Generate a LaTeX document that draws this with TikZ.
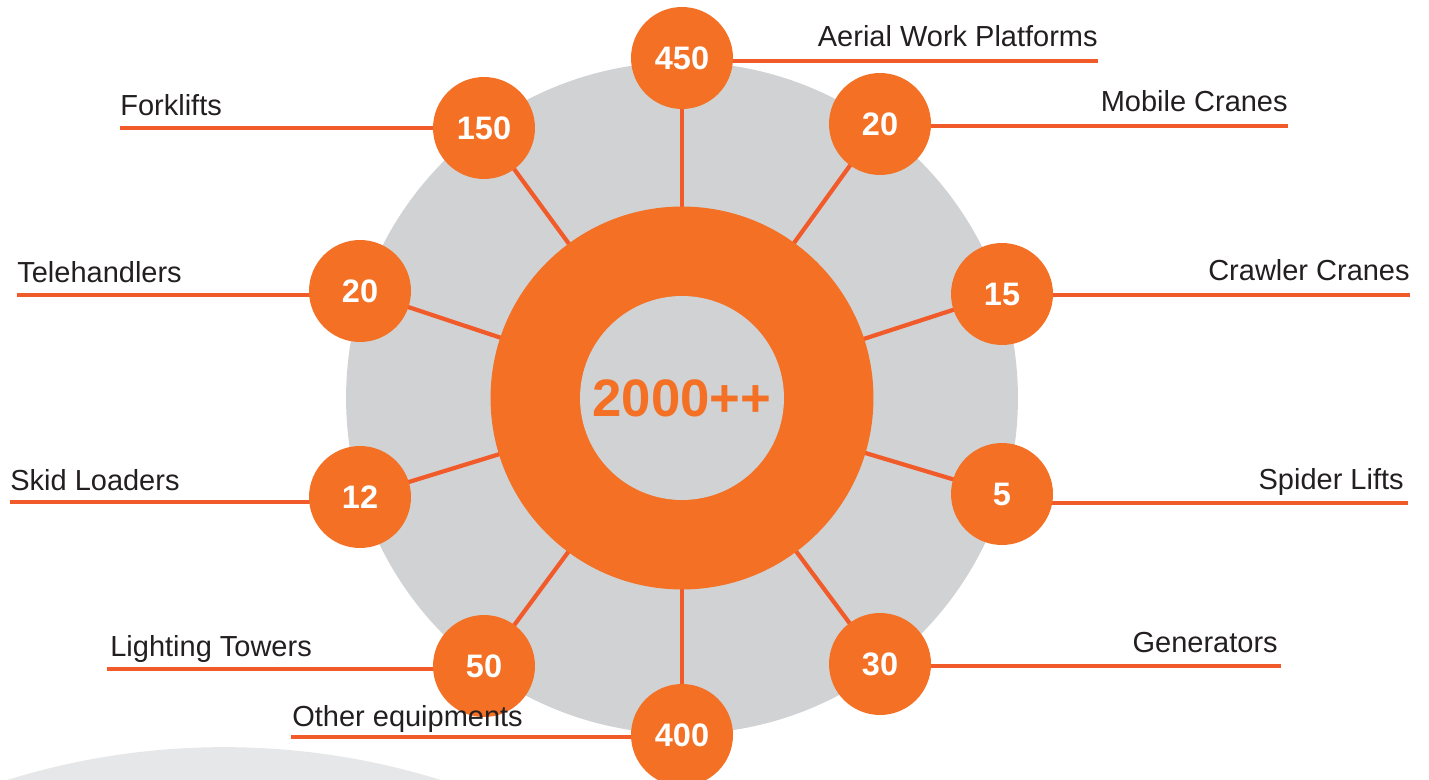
\documentclass[tikz,border=0pt]{standalone}
\usepackage{fontspec}
\setmainfont{Liberation Sans}
\usepackage{tikz}
\usetikzlibrary{backgrounds}
\definecolor{ringorange}{HTML}{F37024}
\definecolor{lineorange}{HTML}{F15A29}
\definecolor{discgrey}{HTML}{D1D2D4}
\definecolor{palegrey}{HTML}{E6E7E8}
\definecolor{labeltext}{HTML}{231F20}

\begin{document}
\begin{tikzpicture}[x=0.02cm,y=-0.02cm]
\tikzstyle{num}=[circle,fill=ringorange,minimum size=2.04cm,inner sep=0pt,text=white,font=\fontsize{18.5}{20}\selectfont\bfseries];
\tikzstyle{lbl}=[inner sep=0pt,text=labeltext,font=\fontsize{16.5}{19}\selectfont];
\tikzstyle{wire}=[draw=lineorange,line width=2.4pt];
\useasboundingbox (0,0) rectangle (1429,780);

\coordinate (hub) at (682,398);
\fill[ringorange] (hub) circle (3.83cm);
\fill[discgrey] (hub) circle (2.04cm);
\node[text=ringorange,font=\fontsize{30}{33}\selectfont\bfseries] (total) at (hub) {2000++};

\node[num] (aerial) at (682,58) {450};
\node[num] (fork) at (484,128) {150};
\node[num] (mobile) at (880,124) {20};
\node[num] (tele) at (360,291) {20};
\node[num] (crawler) at (1002,294) {15};
\node[num] (skid) at (360,497) {12};
\node[num] (spider) at (1002,494) {5};
\node[num] (light) at (484,666) {50};
\node[num] (gen) at (880,664) {30};
\node[num] (other) at (682,735) {400};

\coordinate (aerialend) at (1098,61);
\coordinate (mobileend) at (1288,126);
\coordinate (crawlerend) at (1410,295);
\coordinate (spiderend) at (1408,503);
\coordinate (genend) at (1281,666);
\coordinate (forkend) at (120,128);
\coordinate (teleend) at (17,295);
\coordinate (skidend) at (10,502);
\coordinate (lightend) at (107,669);
\coordinate (otherend) at (291,737);

\begin{scope}[on background layer]
\fill[palegrey] (224,1474) circle (14.54cm);
\fill[discgrey] (hub) circle (6.72cm);
\foreach \n in {aerial,fork,mobile,tele,crawler,skid,spider,light,gen,other}
  \draw[wire] (hub) -- (\n.center);
\foreach \n in {aerial,fork,mobile,tele,crawler,skid,spider,light,gen,other}
  \draw[wire] (\n.center |- \n end) -- (\n end);
\end{scope}

\node[lbl,anchor=base east] (taerial) at (1098,47) {Aerial Work Platforms};
\node[lbl,anchor=base east] (tmobile) at (1288,112) {Mobile Cranes};
\node[lbl,anchor=base east] (tcrawler) at (1410,281) {Crawler Cranes};
\node[lbl,anchor=base east] (tspider) at (1404,489) {Spider Lifts};
\node[lbl,anchor=base east] (tgen) at (1278,652) {Generators};
\node[lbl,anchor=base west] (tfork) at (120,116) {Forklifts};
\node[lbl,anchor=base west] (ttele) at (17,283) {Telehandlers};
\node[lbl,anchor=base west] (tskid) at (10,490) {Skid Loaders};
\node[lbl,anchor=base west] (tlight) at (110,656) {Lighting Towers};
\node[lbl,anchor=base west] (tother) at (292,726) {Other equipments};
\end{tikzpicture}
\end{document}
